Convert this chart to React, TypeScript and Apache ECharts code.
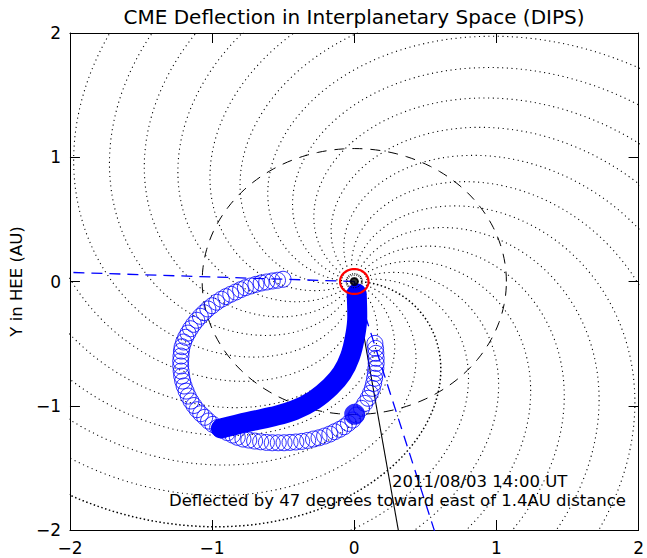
import React, { useEffect, useRef } from "react";
import * as echarts from "echarts";

// Axis range and tick labels (AU)
const AXIS_MIN = -2;
const AXIS_MAX = 2;
const AXIS_STEP = 1;

// Parker spiral model parameters
const SPIRAL_ARMS = 24; // one arm every 15 degrees of solar longitude
const SOLAR_ROTATION_DAYS = 25.38;
const SOLAR_WIND_KMS = 465;
const AU_KM = 1.496e8;
const SPIRAL_MAX_R = 3.0;

// Reference circles (AU)
const ORBIT_RADIUS = 1.07;
const SUN_RING_RADIUS = 0.1;
const SUN_CORE_RING_RADIUS = 0.05;

// CME propagation directions (degrees, HEE)
const FINAL_DIRECTION = -128.2;
const DEFLECTION_DEG = 47;
const INITIAL_DIRECTION = FINAL_DIRECTION + DEFLECTION_DEG;
const HALF_WIDTH = 53.9;

// CME front outline positions (AU)
const frontX = [
  -0.501, -0.54, -0.577, -0.616, -0.655, -0.692, -0.728, -0.766, -0.8, -0.834,
  -0.869, -0.903, -0.935, -0.968, -1.0, -1.03, -1.057, -1.083, -1.108, -1.131,
  -1.152, -1.17, -1.186, -1.2, -1.211, -1.216, -1.219, -1.221, -1.221, -1.218,
  -1.214, -1.207, -1.197, -1.183, -1.168, -1.149, -1.128, -1.106, -1.08, -1.052,
  -1.025, -0.995, -0.961, -0.926, -0.892, -0.855, -0.823, -0.783, -0.742, -0.701,
  -0.659, -0.618, -0.577, -0.535, -0.494, -0.452, -0.411, -0.37, -0.328, -0.287,
  -0.248, -0.209, -0.172, -0.138, -0.103, -0.071, -0.041, -0.011, 0.015, 0.051,
  0.074, 0.097, 0.113, 0.127, 0.136, 0.143, 0.148, 0.152, 0.154, 0.154,
  0.152, 0.15, 0.145,
];
const frontY = [
  0.018, 0.01, 0.004, -0.004, -0.012, -0.023, -0.036, -0.05, -0.066, -0.085,
  -0.103, -0.122, -0.143, -0.167, -0.195, -0.221, -0.251, -0.28, -0.312, -0.345,
  -0.38, -0.415, -0.449, -0.487, -0.525, -0.56, -0.6, -0.64, -0.68, -0.721,
  -0.761, -0.801, -0.841, -0.882, -0.922, -0.962, -0.998, -1.032, -1.064, -1.093,
  -1.123, -1.15, -1.174, -1.196, -1.217, -1.236, -1.254, -1.268, -1.276, -1.284,
  -1.29, -1.295, -1.298, -1.298, -1.298, -1.295, -1.292, -1.287, -1.279, -1.268,
  -1.258, -1.244, -1.228, -1.209, -1.19, -1.169, -1.142, -1.115, -1.075, -1.021,
  -0.981, -0.94, -0.9, -0.86, -0.82, -0.779, -0.739, -0.699, -0.659, -0.618,
  -0.578, -0.538, -0.498,
];

// CME centre track (AU)
const trackX = [0.017, 0.021, 0.005, -0.03, -0.087, -0.168, -0.283, -0.421, -0.581, -0.742, -0.938];
const trackY = [-0.095, -0.283, -0.444, -0.605, -0.739, -0.847, -0.954, -1.035, -1.089, -1.129, -1.182];

// Arrival marker (AU)
const arrivalX = 0.003;
const arrivalY = -1.069;

const dateLabel = "2011/08/03 14:00 UT";
const deflectionLabel = `Deflected by ${DEFLECTION_DEG} degrees toward east of 1.4AU distance`;

const FONT = "'DejaVu Sans', 'Liberation Sans', sans-serif";
const BLUE = "#0000ff";

const rad = (d: number) => (d * Math.PI) / 180;

function spiralArm(phi0Deg: number): number[][] {
  const omega = (2 * Math.PI) / (SOLAR_ROTATION_DAYS * 86400);
  const winding = (omega * AU_KM) / SOLAR_WIND_KMS; // radians per AU
  const pts: number[][] = [];
  for (let i = 2; i <= SPIRAL_MAX_R * 100; i++) {
    const r = i / 100;
    const phi = rad(phi0Deg) - winding * r;
    pts.push([r * Math.cos(phi), r * Math.sin(phi)]);
  }
  return pts;
}

function circle(radius: number): number[][] {
  const pts: number[][] = [];
  for (let a = 0; a <= 360; a += 2) {
    pts.push([radius * Math.cos(rad(a)), radius * Math.sin(rad(a))]);
  }
  return pts;
}

function ray(dirDeg: number): number[][] {
  return [
    [0, 0],
    [3 * Math.cos(rad(dirDeg)), 3 * Math.sin(rad(dirDeg))],
  ];
}

const minusFmt = (v: number) => (v < 0 ? "\u2212" + Math.abs(v) : String(v));

export default function App() {
  const ref = useRef<HTMLDivElement>(null);

  useEffect(() => {
    if (!ref.current) return;
    const chart = echarts.init(ref.current, undefined, { renderer: "svg" });

    const series: any[] = [];
    for (let k = 0; k < SPIRAL_ARMS; k++) {
      const phi0 = (360 / SPIRAL_ARMS) * k;
      const bold = k === 0;
      series.push({
        type: "line",
        data: spiralArm(phi0),
        showSymbol: false,
        silent: true,
        clip: true,
        lineStyle: {
          color: "#000",
          width: bold ? 1.5 : 1.1,
          type: bold ? [1.5, 2.5] : [1.1, 3.6],
        },
        z: 1,
      });
    }

    series.push({
      type: "line",
      data: circle(ORBIT_RADIUS),
      showSymbol: false,
      silent: true,
      lineStyle: { color: "#000", width: 1, type: [10, 8] },
      z: 2,
    });

    series.push({
      type: "line",
      data: ray(INITIAL_DIRECTION),
      showSymbol: false,
      silent: true,
      lineStyle: { color: "#000", width: 1.1 },
      z: 2,
    });

    [FINAL_DIRECTION + HALF_WIDTH, FINAL_DIRECTION - HALF_WIDTH].forEach((d) =>
      series.push({
        type: "line",
        data: ray(d),
        showSymbol: false,
        silent: true,
        lineStyle: { color: BLUE, width: 1.3, type: [11, 7] },
        z: 2,
      })
    );

    series.push({
      type: "scatter",
      data: frontX.map((x, i) => [x, frontY[i]]),
      symbol: "circle",
      symbolSize: 16,
      silent: true,
      itemStyle: { color: "rgba(0,0,0,0)", borderColor: BLUE, borderWidth: 1 },
      z: 3,
    });

    series.push({
      type: "line",
      data: trackX.map((x, i) => [x, trackY[i]]),
      showSymbol: false,
      smooth: 0.4,
      silent: true,
      lineStyle: { color: BLUE, width: 20, cap: "round", join: "round" },
      z: 4,
    });

    series.push({
      type: "scatter",
      data: [[arrivalX, arrivalY]],
      symbol: "circle",
      symbolSize: 21,
      silent: true,
      itemStyle: { color: BLUE },
      z: 5,
    });

    series.push({
      type: "line",
      data: circle(SUN_RING_RADIUS),
      showSymbol: false,
      silent: true,
      lineStyle: { color: "#ff0000", width: 2.2 },
      z: 6,
    });

    series.push({
      type: "line",
      data: circle(SUN_CORE_RING_RADIUS),
      showSymbol: false,
      silent: true,
      lineStyle: { color: "#000", width: 1, type: [1, 1.5] },
      z: 6,
    });

    series.push({
      type: "scatter",
      data: [[0, 0]],
      symbol: "circle",
      symbolSize: 9,
      silent: true,
      itemStyle: { color: "#000" },
      z: 7,
    });

    const axisCommon = {
      type: "value",
      min: AXIS_MIN,
      max: AXIS_MAX,
      interval: AXIS_STEP,
      splitLine: { show: false },
      axisLine: { show: true, onZero: false, lineStyle: { color: "#000", width: 1 } },
      axisTick: { show: true, inside: true, length: 10, lineStyle: { color: "#000" } },
    };

    const tickLabel = { formatter: minusFmt, color: "#000", fontSize: 17, fontFamily: FONT, margin: 9 };

    chart.setOption({
      animation: false,
      backgroundColor: "#fff",
      grid: { left: 64, top: 33, width: 580, height: 497 },
      xAxis: [
        { ...axisCommon, position: "bottom", axisLabel: tickLabel },
        { ...axisCommon, position: "top", axisLabel: { show: false } },
      ],
      yAxis: [
        {
          ...axisCommon,
          position: "left",
          name: "Y in HEE (AU)",
          nameLocation: "middle",
          nameRotate: 90,
          nameGap: 38,
          nameTextStyle: { color: "#000", fontSize: 16.5, fontFamily: FONT },
          axisLabel: tickLabel,
        },
        { ...axisCommon, position: "right", axisLabel: { show: false } },
      ],
      graphic: [
        {
          type: "text",
          x: 354,
          y: 17,
          silent: true,
          style: {
            text: "CME Deflection in Interplanetary Space (DIPS)",
            fill: "#000",
            fontSize: 20,
            fontFamily: FONT,
            align: "center",
            verticalAlign: "middle",
          },
        },
        {
          type: "text",
          x: 392,
          y: 481,
          silent: true,
          z: 10,
          style: {
            text: dateLabel,
            fill: "#000",
            fontSize: 16.5,
            fontFamily: FONT,
            align: "left",
            verticalAlign: "middle",
          },
        },
        {
          type: "text",
          x: 626,
          y: 500,
          silent: true,
          z: 10,
          style: {
            text: deflectionLabel,
            fill: "#000",
            fontSize: 16.5,
            fontFamily: FONT,
            align: "right",
            verticalAlign: "middle",
          },
        },
      ],
      series,
    });

    return () => chart.dispose();
  }, []);

  return (
    <div
      ref={ref}
      style={{ position: "fixed", left: 0, top: 0, width: 647, height: 558, background: "#fff" }}
    />
  );
}
